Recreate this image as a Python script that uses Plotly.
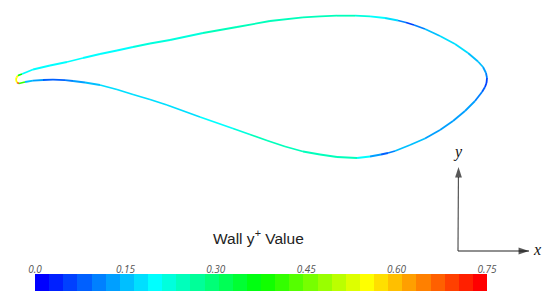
import plotly.graph_objects as go

# Aerofoil outline, with the wall y+ value at each point
outline_x = [19, 17, 16, 16.5, 18, 22, 33, 50, 67, 83, 100, 117, 133, 150, 170, 203, 237, 270, 303, 320, 337, 355, 370, 385,
             398, 406, 414, 425, 440, 455, 468, 478, 483, 486, 487, 486.5, 485, 482, 475, 465, 453, 440, 425, 410, 395,
             388, 381, 370, 357, 337, 320, 303, 285, 267, 250, 233, 200, 167, 150, 133, 117, 100, 85, 73, 65, 53, 43, 33, 25, 19]
outline_y = [83.5, 82.5, 80, 77.5, 75.5, 74, 69.5, 65.5, 62, 58, 54, 50.5, 47, 43.5, 40, 33, 27, 21, 17.3, 16.3, 15.7, 15.7, 16.3, 18,
             20.5, 22.5, 25, 29, 36, 44, 53, 61.5, 67, 73, 78, 83, 87, 92, 101, 111, 121, 130, 138.5, 145, 151,
             153, 154.5, 156.5, 158, 157, 154.5, 151.5, 146.5, 140.5, 134.5, 128.5, 117, 105, 99.5, 94.5, 89.5, 85, 82.5, 81, 80.2, 79.7, 80, 80.7, 82, 83.5]
outline_yplus = [0.70, 0.62, 0.50, 0.60, 0.50, 0.21, 0.20, 0.20, 0.20, 0.21, 0.21, 0.21, 0.21, 0.22, 0.22, 0.23, 0.24, 0.24, 0.24, 0.25, 0.25, 0.24, 0.22, 0.20,
                 0.15, 0.05, 0.08, 0.14, 0.16, 0.17, 0.17, 0.15, 0.14, 0.12, 0.08, 0.06, 0.07, 0.10, 0.12, 0.12, 0.12, 0.13, 0.14, 0.16, 0.14,
                 0.07, 0.10, 0.18, 0.22, 0.25, 0.25, 0.25, 0.24, 0.24, 0.23, 0.21, 0.19, 0.18, 0.18, 0.17, 0.17, 0.16, 0.15, 0.13, 0.10, 0.07, 0.10, 0.14, 0.18, 0.62]

# Coordinate arrows
axis_y_x = [458, 458.5]
axis_y_y = [251, 167]
axis_x_x = [458, 529]
axis_x_y = [251, 251]

# Colour bar
bar_levels = 32
bar_min = 0.0
bar_max = 0.75
bar_ticks = [0.0, 0.15, 0.30, 0.45, 0.60, 0.75]
bar_ticktext = ["0.0", "0.15", "0.30", "0.45", "0.60", "0.75"]
title_text = "Wall y<sup>+</sup> Value"

stops = [(0, (0, 0, 255)), (8, (0, 255, 255)), (15.5, (0, 255, 0)), (23, (255, 255, 0)), (31, (255, 0, 0))]


def level_colour(i):
    for (a, ca), (b, cb) in zip(stops, stops[1:]):
        if a <= i <= b:
            t = (i - a) / (b - a)
            c = [round(p + (q - p) * t) for p, q in zip(ca, cb)]
            return f"rgb({c[0]},{c[1]},{c[2]})"
    return "rgb(255,0,0)"


def value_colour(v):
    return level_colour(min(bar_levels - 1, int((v - bar_min) / (bar_max - bar_min) * bar_levels)))


fig = go.Figure()

for i in range(len(outline_x) - 1):
    mean_value = (outline_yplus[i] + outline_yplus[i + 1]) / 2
    fig.add_trace(go.Scatter(
        x=outline_x[i:i + 2], y=outline_y[i:i + 2], mode="lines",
        line=dict(color=value_colour(mean_value), width=1.8),
        hoverinfo="skip", showlegend=False, xaxis="x", yaxis="y",
    ))

for xs, ys, angle, line_colour in [(axis_y_x, axis_y_y, 0, "#555555"), (axis_x_x, axis_x_y, 90, "#222222")]:
    fig.add_trace(go.Scatter(
        x=xs, y=ys, mode="lines+markers",
        line=dict(color=line_colour, width=1.2),
        marker=dict(symbol=["circle", "arrow"], size=[0.1, 11], angle=angle, color="#111111", line=dict(width=0)),
        hoverinfo="skip", showlegend=False, xaxis="x", yaxis="y",
    ))

step = (bar_max - bar_min) / bar_levels
centres = [bar_min + step * (i + 0.5) for i in range(bar_levels)]
colorscale = []
for i in range(bar_levels):
    colorscale.append([i / bar_levels, level_colour(i)])
    colorscale.append([(i + 1) / bar_levels, level_colour(i)])
fig.add_trace(go.Heatmap(
    x=centres, y=[0], z=[centres], zmin=bar_min, zmax=bar_max,
    colorscale=colorscale, showscale=False, xaxis="x2", yaxis="y2", hoverinfo="skip",
))

W, H = 550, 300
fig.update_layout(
    width=W, height=H, autosize=False,
    margin=dict(l=0, r=0, t=0, b=0, autoexpand=False),
    paper_bgcolor="white", plot_bgcolor="rgba(0,0,0,0)",
    showlegend=False,
    xaxis=dict(range=[0, W], domain=[0, 1], visible=False, fixedrange=True),
    yaxis=dict(range=[H, 0], domain=[0, 1], visible=False, fixedrange=True),
    xaxis2=dict(
        domain=[35 / W, 487 / W], range=[bar_min, bar_max], anchor="y2", side="top",
        tickmode="array", tickvals=bar_ticks, ticktext=bar_ticktext, ticks="",
        tickfont=dict(family="Open Sans, DejaVu Sans", size=10, color="#555555", style="italic"),
        showgrid=False, zeroline=False, showline=False, fixedrange=True, automargin=False,
        ticklabelstandoff=-2,
    ),
    yaxis2=dict(
        domain=[1 - 291 / H, 1 - 274 / H], anchor="x2", visible=False, fixedrange=True,
    ),
    annotations=[
        dict(text=title_text, x=258, y=237, xref="x", yref="y", showarrow=False,
             font=dict(family="Liberation Sans, Arial", size=15.5, color="#222222")),
        dict(text="y", x=457.5, y=152, xref="x", yref="y", showarrow=False,
             font=dict(family="Liberation Serif, Times New Roman", size=16, color="#111111", style="italic")),
        dict(text="x", x=537, y=249, xref="x", yref="y", showarrow=False,
             font=dict(family="Liberation Serif, Times New Roman", size=16, color="#111111", style="italic")),
    ],
)

fig.write_html("out.html", config={"displayModeBar": False},
               post_script="document.body.style.margin='0';document.documentElement.style.overflow='hidden';")
